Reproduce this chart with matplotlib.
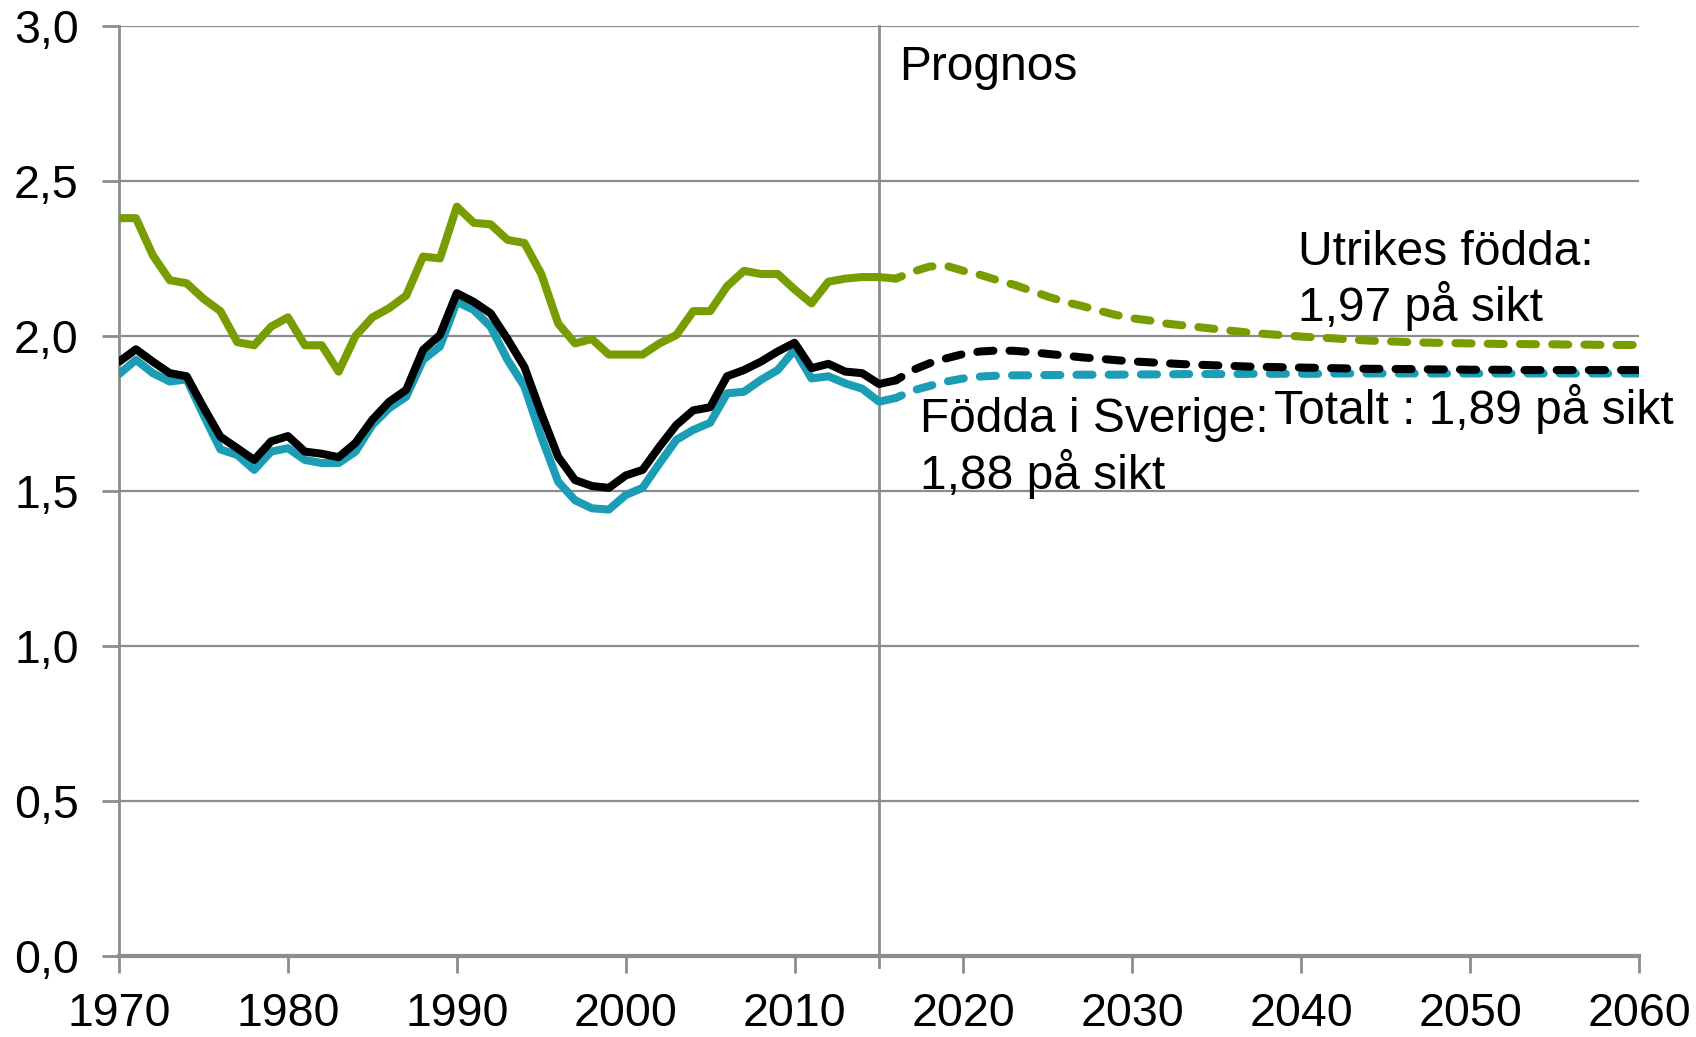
import matplotlib.pyplot as plt
import numpy as np

plt.rcParams['font.family'] = ['Liberation Sans', 'DejaVu Sans']

hist_years = list(range(1970, 2017))
prog_years = list(range(2016, 2061))

utrikes_hist = [2.38, 2.38, 2.26, 2.18, 2.17, 2.12, 2.08, 1.98, 1.97, 2.03,
                2.06, 1.97, 1.97, 1.885, 2.00, 2.06, 2.09, 2.13, 2.256, 2.25,
                2.417, 2.365, 2.36, 2.31, 2.30, 2.20, 2.04, 1.976, 1.99, 1.94,
                1.94, 1.94, 1.976, 2.003, 2.08, 2.08, 2.16, 2.21, 2.20, 2.20,
                2.15, 2.105, 2.175, 2.185, 2.19, 2.19, 2.185]
totalt_hist = [1.917, 1.957, 1.917, 1.88, 1.87, 1.77, 1.675, 1.638, 1.60, 1.66,
               1.677, 1.627, 1.62, 1.609, 1.655, 1.73, 1.788, 1.826, 1.955, 2.003,
               2.138, 2.11, 2.073, 1.99, 1.90, 1.75, 1.61, 1.535, 1.516, 1.51,
               1.55, 1.568, 1.643, 1.713, 1.76, 1.77, 1.87, 1.89, 1.917, 1.95,
               1.978, 1.896, 1.91, 1.885, 1.88, 1.845, 1.857]
sverige_hist = [1.877, 1.923, 1.88, 1.853, 1.86, 1.745, 1.634, 1.616, 1.568, 1.627,
                1.638, 1.60, 1.59, 1.59, 1.627, 1.713, 1.767, 1.804, 1.923, 1.966,
                2.11, 2.084, 2.03, 1.923, 1.837, 1.675, 1.53, 1.47, 1.444, 1.44,
                1.487, 1.51, 1.589, 1.665, 1.697, 1.72, 1.815, 1.82, 1.858, 1.89,
                1.955, 1.863, 1.87, 1.847, 1.83, 1.788, 1.80]

utrikes_prog = [2.185, 2.207, 2.224, 2.226, 2.21, 2.197, 2.18, 2.165, 2.146, 2.127,
                2.11, 2.097, 2.082, 2.068, 2.057, 2.05, 2.04, 2.034, 2.028, 2.022,
                2.016, 2.01, 2.006, 2.002, 1.998, 1.995, 1.992, 1.988, 1.985, 1.983,
                1.981, 1.979, 1.978, 1.977, 1.976, 1.975, 1.974, 1.974, 1.973, 1.973,
                1.972, 1.972, 1.971, 1.971, 1.971]
totalt_prog = [1.857, 1.89, 1.912, 1.928, 1.942, 1.95, 1.953, 1.952, 1.948, 1.942,
               1.937, 1.931, 1.927, 1.922, 1.918, 1.915, 1.912, 1.909, 1.907, 1.905,
               1.903, 1.901, 1.90, 1.899, 1.898, 1.897, 1.896, 1.895, 1.894, 1.894,
               1.893, 1.893, 1.892, 1.892, 1.891, 1.891, 1.891, 1.89, 1.89, 1.89,
               1.89, 1.89, 1.89, 1.89, 1.89]
sverige_prog = [1.80, 1.824, 1.839, 1.853, 1.863, 1.869, 1.872, 1.873, 1.873, 1.874,
                1.874, 1.875, 1.875, 1.875, 1.876, 1.876, 1.876, 1.877, 1.877, 1.877,
                1.877, 1.878, 1.878, 1.878, 1.878, 1.878, 1.879, 1.879, 1.879, 1.879,
                1.879, 1.879, 1.879, 1.879, 1.879, 1.879, 1.879, 1.879, 1.879, 1.879,
                1.879, 1.879, 1.879, 1.879, 1.879]

green = '#789d00'
teal = '#1a9db5'
black = '#000000'
grid = '#8c8c8c'

fig = plt.figure(figsize=(16.96, 10.37), dpi=100)
ax = fig.add_axes([0.0702, 0.0781, 0.8962, 0.8969])

for y in np.arange(0.5, 3.01, 0.5):
    ax.axhline(y, color=grid, lw=1.6, zorder=1)
ax.axvline(2015, ymin=-0.012, ymax=1, color=grid, lw=2, zorder=1, clip_on=False)

lw = 5.8
ax.plot(hist_years, utrikes_hist, color=green, lw=lw, solid_joinstyle='round',
        solid_capstyle='round', zorder=3)
ax.plot(hist_years, sverige_hist, color=teal, lw=lw, solid_joinstyle='round',
        solid_capstyle='round', zorder=3)
ax.plot(hist_years, totalt_hist, color=black, lw=lw, solid_joinstyle='round',
        solid_capstyle='round', zorder=4)

for vals, c, z in [(utrikes_prog, green, 3), (sverige_prog, teal, 3), (totalt_prog, black, 4)]:
    ax.plot(prog_years, vals, color=c, lw=lw, ls=(1.2, (2.0, 2.0)),
            dash_capstyle='round', zorder=z)

fs = 34.5
ax.text(2016.2, 2.865, 'Prognos', fontsize=fs, va='center', ha='left')
ax.text(2039.8, 2.27, 'Utrikes födda:', fontsize=fs, va='center', ha='left')
ax.text(2039.8, 2.097, '1,97 på sikt', fontsize=fs, va='center', ha='left')
ax.text(2017.4, 1.729, 'Födda i Sverige:', fontsize=fs, va='center', ha='left')
ax.text(2017.4, 1.555, '1,88 på sikt', fontsize=fs, va='center', ha='left')
ax.text(2038.4, 1.765, 'Totalt : 1,89 på sikt', fontsize=fs, va='center', ha='left')

ax.set_xlim(1970, 2060)
ax.set_ylim(0, 3.0)
ax.set_xticks(range(1970, 2061, 10))
ax.set_yticks(np.arange(0, 3.01, 0.5))
ax.set_yticklabels([f'{v:.1f}'.replace('.', ',') for v in np.arange(0, 3.01, 0.5)])

for s in ['top', 'right']:
    ax.spines[s].set_visible(False)
ax.spines['left'].set_color(grid)
ax.spines['left'].set_linewidth(2)
ax.spines['bottom'].set_color(grid)
ax.spines['bottom'].set_linewidth(3)
ax.tick_params(axis='both', labelsize=33.5, color=grid, width=2, length=12, direction='out')
ax.tick_params(axis='x', pad=14)
ax.tick_params(axis='y', pad=17)

fig.savefig('out.png', dpi=100)
